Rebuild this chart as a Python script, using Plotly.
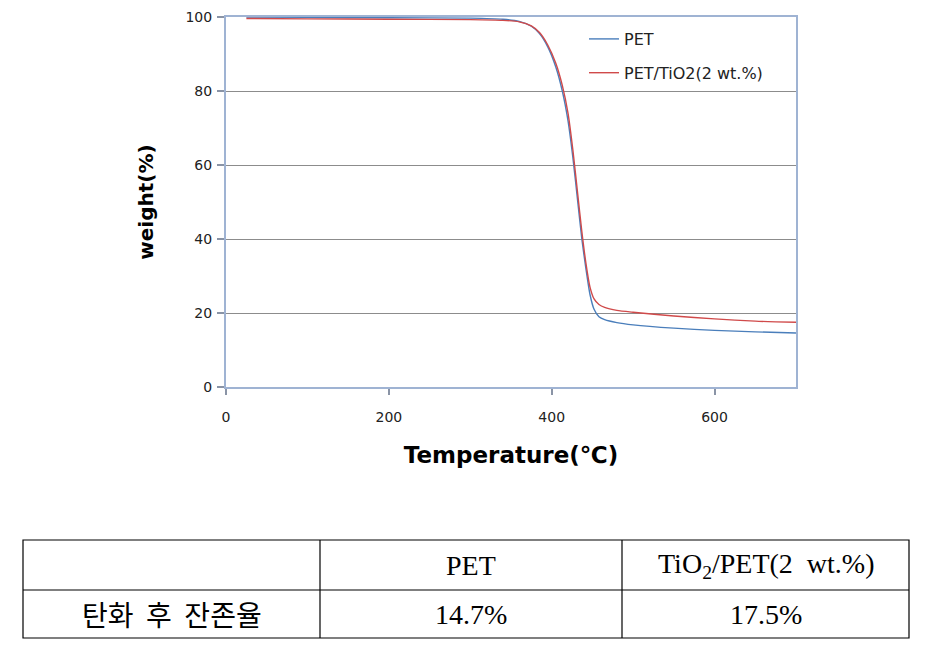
import plotly.graph_objects as go

W, H = 931, 656
OFF = 8  # page body margin

# ---- data ----
temp_pet = [25, 100, 200, 300, 340, 360, 375, 385, 395, 405, 413, 420, 426, 432, 437, 442, 447, 452, 458, 465, 480, 500, 550, 600, 650, 700]
w_pet = [100, 99.9, 99.8, 99.7, 99.4, 98.8, 97.5, 95.5, 92, 86.5, 80, 72, 62, 50, 40, 32, 25, 21, 19, 18.2, 17.4, 16.8, 15.9, 15.3, 14.9, 14.6]

temp_tio2 = [25, 100, 200, 300, 340, 360, 375, 385, 395, 405, 413, 420, 426, 432, 437, 442, 447, 452, 458, 465, 480, 500, 550, 600, 650, 700]
w_tio2 = [99.6, 99.5, 99.4, 99.3, 99.1, 98.7, 97.6, 95.8, 92.5, 87.5, 81.5, 74, 64, 52, 42, 33.5, 27, 23.8, 22.3, 21.5, 20.7, 20.2, 19.2, 18.4, 17.8, 17.5]

x_ticks = [0, 200, 400, 600]
y_ticks = [0, 20, 40, 60, 80, 100]

table_header = ["", "PET", "TiO<sub>2</sub>/PET(2  wt.%)"]
table_row = ["탄화\u00a0 후\u00a0 잔존율", "14.7%", "17.5%"]

# ---- layout geometry (pixels in the page) ----
px_l, px_r, px_t, px_b = 226, 796, 17, 387
tab_x = [23, 320, 622, 909]
tab_y = [540, 590, 638]

def fx(p):
    return (p - OFF) / W

def fy(p):
    return 1 - (p - OFF) / H

fig = go.Figure()
fig.add_trace(go.Scatter(x=temp_pet, y=w_pet, mode="lines", name="PET",
                         line=dict(color="#4A7EBB", width=1.4, shape="spline", smoothing=0.6),
                         legendgroup="a"))
fig.add_trace(go.Scatter(x=temp_tio2, y=w_tio2, mode="lines", name="PET/TiO2(2 wt.%)",
                         line=dict(color="#D04A4A", width=1.4, shape="spline", smoothing=0.6),
                         legendgroup="b"))

axis_font = dict(family="DejaVu Sans", size=14, color="#222")

shapes = []
annotations = []
shapes.append(dict(type="rect", xref="paper", yref="paper",
                   x0=fx(tab_x[0]), x1=fx(tab_x[-1]), y0=fy(tab_y[-1]), y1=fy(tab_y[0]),
                   line=dict(color="black", width=1.2)))
shapes.append(dict(type="line", xref="paper", yref="paper",
                   x0=fx(tab_x[0]), x1=fx(tab_x[-1]), y0=fy(tab_y[1]), y1=fy(tab_y[1]),
                   line=dict(color="black", width=1.2)))
for xv in tab_x[1:-1]:
    shapes.append(dict(type="line", xref="paper", yref="paper",
                       x0=fx(xv), x1=fx(xv), y0=fy(tab_y[0]), y1=fy(tab_y[-1]),
                       line=dict(color="black", width=1.2)))

for r, row in enumerate([table_header, table_row]):
    yc = (tab_y[r] + tab_y[r + 1]) / 2
    for c, txt in enumerate(row):
        if not txt:
            continue
        xc = (tab_x[c] + tab_x[c + 1]) / 2
        if c == 0:
            f = dict(family="'Noto Sans CJK KR'", size=28, color="black")
        else:
            f = dict(family="Liberation Serif", size=28, color="black")
        annotations.append(dict(xref="paper", yref="paper", x=fx(xc), y=fy(yc),
                                text=txt, showarrow=False, xanchor="center", yanchor="middle",
                                font=f))

fig.update_layout(
    width=W, height=H,
    margin=dict(l=0, r=0, t=0, b=0),
    paper_bgcolor="white", plot_bgcolor="white",
    showlegend=True,
    legend=dict(x=fx(584), y=fy(22), xanchor="left", yanchor="top",
                bgcolor="rgba(0,0,0,0)", tracegroupgap=10,
                font=dict(family="DejaVu Sans", size=16, color="#222")),
    xaxis=dict(domain=[fx(px_l), fx(px_r)], range=[0, 700], tickvals=x_ticks,
               showgrid=False, zeroline=False, showline=True, mirror=True,
               linecolor="#9FB3D3", linewidth=2, ticks="outside", ticklen=6,
               tickcolor="#8A94A6", tickwidth=1.5, tickfont=axis_font,
               ticklabelstandoff=10, automargin=False, ticklabeloverflow="allow",
               title=dict(text="<b>Temperature(℃)</b>", standoff=23,
                          font=dict(family="DejaVu Sans", size=23, color="black"))),
    yaxis=dict(domain=[fy(px_b), fy(px_t)], range=[0, 100], tickvals=y_ticks,
               showgrid=True, gridcolor="#8C8C8C", gridwidth=1.3, zeroline=False,
               showline=True, mirror=True, linecolor="#9FB3D3", linewidth=2,
               ticks="outside", ticklen=7, tickcolor="#8A94A6", tickwidth=1.5,
               tickfont=axis_font, ticklabelstandoff=2, automargin=False,
               ticklabeloverflow="allow",
               title=dict(text="<b>weight(%)</b>", standoff=26,
                          font=dict(family="DejaVu Sans", size=20, color="black"))),
    shapes=shapes,
    annotations=annotations,
)

fig.write_html("out.html")
